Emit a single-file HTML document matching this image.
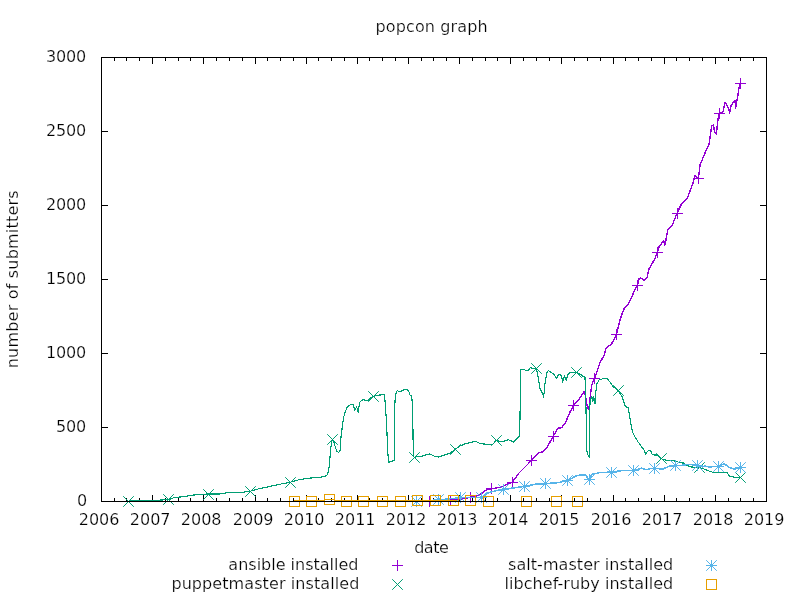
<!DOCTYPE html>
<html lang="en"><head><meta charset="utf-8"><title>popcon graph</title>
<style>
html,body{margin:0;padding:0;background:#fff;}
body{width:800px;height:600px;overflow:hidden;}
svg{display:block;}
text{font-family:"DejaVu Sans","Liberation Sans",sans-serif;font-size:16px;fill:#000;stroke:#fff;stroke-width:0.22px;}
.ax{stroke:#000;stroke-width:1;fill:none;shape-rendering:crispEdges;}
.mk path,.mk rect{fill:none;stroke-width:1;}
.ln{shape-rendering:crispEdges;fill:none;stroke-linejoin:round;stroke-linecap:butt;}
</style></head><body>
<svg width="800" height="600" viewBox="0 0 800 600">
<rect width="800" height="600" fill="#fff"/>

<text x="431.6" y="32.3" text-anchor="middle" textLength="112" lengthAdjust="spacing">popcon graph</text>
<text transform="translate(18.2,279.3) rotate(-90)" text-anchor="middle" textLength="177.9" lengthAdjust="spacing">number of submitters</text>
<text x="431.5" y="552.7" text-anchor="middle" textLength="34.6" lengthAdjust="spacing">date</text>
<path class="ax" d="M114.5 502.0V498.0M114.5 57.0V61.0M126.5 502.0V498.0M126.5 57.0V61.0M139.5 502.0V498.0M139.5 57.0V61.0M152.5 502.0V495.0M152.5 57.0V64.0M165.5 502.0V498.0M165.5 57.0V61.0M178.5 502.0V498.0M178.5 57.0V61.0M190.5 502.0V498.0M190.5 57.0V61.0M203.5 502.0V495.0M203.5 57.0V64.0M216.5 502.0V498.0M216.5 57.0V61.0M229.5 502.0V498.0M229.5 57.0V61.0M242.5 502.0V498.0M242.5 57.0V61.0M255.5 502.0V495.0M255.5 57.0V64.0M267.5 502.0V498.0M267.5 57.0V61.0M280.5 502.0V498.0M280.5 57.0V61.0M293.5 502.0V498.0M293.5 57.0V61.0M306.5 502.0V495.0M306.5 57.0V64.0M318.5 502.0V498.0M318.5 57.0V61.0M331.5 502.0V498.0M331.5 57.0V61.0M344.5 502.0V498.0M344.5 57.0V61.0M357.5 502.0V495.0M357.5 57.0V64.0M369.5 502.0V498.0M369.5 57.0V61.0M382.5 502.0V498.0M382.5 57.0V61.0M395.5 502.0V498.0M395.5 57.0V61.0M408.5 502.0V495.0M408.5 57.0V64.0M421.5 502.0V498.0M421.5 57.0V61.0M433.5 502.0V498.0M433.5 57.0V61.0M446.5 502.0V498.0M446.5 57.0V61.0M459.5 502.0V495.0M459.5 57.0V64.0M472.5 502.0V498.0M472.5 57.0V61.0M485.5 502.0V498.0M485.5 57.0V61.0M497.5 502.0V498.0M497.5 57.0V61.0M510.5 502.0V495.0M510.5 57.0V64.0M523.5 502.0V498.0M523.5 57.0V61.0M536.5 502.0V498.0M536.5 57.0V61.0M549.5 502.0V498.0M549.5 57.0V61.0M561.5 502.0V495.0M561.5 57.0V64.0M574.5 502.0V498.0M574.5 57.0V61.0M587.5 502.0V498.0M587.5 57.0V61.0M600.5 502.0V498.0M600.5 57.0V61.0M613.5 502.0V495.0M613.5 57.0V64.0M625.5 502.0V498.0M625.5 57.0V61.0M638.5 502.0V498.0M638.5 57.0V61.0M651.5 502.0V498.0M651.5 57.0V61.0M664.5 502.0V495.0M664.5 57.0V64.0M676.5 502.0V498.0M676.5 57.0V61.0M689.5 502.0V498.0M689.5 57.0V61.0M702.5 502.0V498.0M702.5 57.0V61.0M715.5 502.0V495.0M715.5 57.0V64.0M728.5 502.0V498.0M728.5 57.0V61.0M740.5 502.0V498.0M740.5 57.0V61.0M753.5 502.0V498.0M753.5 57.0V61.0M101.0 427.5H108.0M767.0 427.5H760.0M101.0 353.5H108.0M767.0 353.5H760.0M101.0 279.5H108.0M767.0 279.5H760.0M101.0 205.5H108.0M767.0 205.5H760.0M101.0 131.5H108.0M767.0 131.5H760.0"/>
<text x="87.3" y="505.8" text-anchor="end" textLength="10.1" lengthAdjust="spacing">0</text>
<text x="86.2" y="431.8" text-anchor="end" textLength="30.2" lengthAdjust="spacing">500</text>
<text x="86.2" y="357.8" text-anchor="end" textLength="40.2" lengthAdjust="spacing">1000</text>
<text x="86.2" y="283.8" text-anchor="end" textLength="40.2" lengthAdjust="spacing">1500</text>
<text x="86.2" y="209.8" text-anchor="end" textLength="40.2" lengthAdjust="spacing">2000</text>
<text x="86.2" y="135.8" text-anchor="end" textLength="40.2" lengthAdjust="spacing">2500</text>
<text x="86.2" y="61.8" text-anchor="end" textLength="40.2" lengthAdjust="spacing">3000</text>
<text x="99.1" y="525.1" text-anchor="middle" textLength="40.9" lengthAdjust="spacing">2006</text>
<text x="150.1" y="525.1" text-anchor="middle" textLength="40.9" lengthAdjust="spacing">2007</text>
<text x="201.1" y="525.1" text-anchor="middle" textLength="40.9" lengthAdjust="spacing">2008</text>
<text x="253.1" y="525.1" text-anchor="middle" textLength="40.9" lengthAdjust="spacing">2009</text>
<text x="304.1" y="525.1" text-anchor="middle" textLength="40.9" lengthAdjust="spacing">2010</text>
<text x="355.1" y="525.1" text-anchor="middle" textLength="40.9" lengthAdjust="spacing">2011</text>
<text x="406.1" y="525.1" text-anchor="middle" textLength="40.9" lengthAdjust="spacing">2012</text>
<text x="457.1" y="525.1" text-anchor="middle" textLength="40.9" lengthAdjust="spacing">2013</text>
<text x="508.1" y="525.1" text-anchor="middle" textLength="40.9" lengthAdjust="spacing">2014</text>
<text x="559.1" y="525.1" text-anchor="middle" textLength="40.9" lengthAdjust="spacing">2015</text>
<text x="611.1" y="525.1" text-anchor="middle" textLength="40.9" lengthAdjust="spacing">2016</text>
<text x="662.1" y="525.1" text-anchor="middle" textLength="40.9" lengthAdjust="spacing">2017</text>
<text x="713.1" y="525.1" text-anchor="middle" textLength="40.9" lengthAdjust="spacing">2018</text>
<text x="764.1" y="525.1" text-anchor="middle" textLength="40.9" lengthAdjust="spacing">2019</text>
<polyline class="ln" stroke="#9400d3" stroke-width="1.4" points="429.5,501.5 440.0,501.2 450.5,500.2 458.0,499.6 464.0,498.6 470.5,497.4 476.0,496.2 480.0,494.7 486.0,490.2 491.2,488.7 496.0,488.0 501.0,487.2 507.0,484.2 512.2,482.3 515.5,478.0 519.0,473.0 522.0,470.0 525.0,467.0 528.5,463.5 531.7,460.2 534.5,457.0 537.7,453.5 540.0,452.3 543.0,452.0 545.0,449.8 547.5,446.7 550.0,442.0 553.0,436.7 556.0,431.5 558.7,427.4 560.2,428.2 561.7,427.5 563.5,425.0 565.5,422.5 567.8,417.2 570.0,412.0 572.0,408.2 573.7,405.2 576.5,402.0 579.0,399.2 581.5,395.6 584.2,391.7 585.0,394.0 586.2,400.5 587.2,406.0 588.7,409.7 589.4,404.0 590.2,397.0 591.7,385.0 593.2,381.0 594.5,378.6 595.8,375.0 597.0,371.5 598.6,366.5 600.0,362.5 602.0,359.0 604.0,356.0 606.0,348.0 608.5,346.2 611.0,345.0 613.8,339.6 616.4,334.6 618.2,327.0 620.0,320.0 622.0,314.0 624.0,309.0 626.0,306.6 628.0,305.0 630.5,299.5 633.0,294.0 635.2,289.5 637.4,285.0 639.0,279.0 641.0,278.0 644.0,280.6 647.0,278.0 648.0,273.0 649.0,269.0 651.5,264.5 654.2,260.0 657.4,252.6 659.0,247.0 661.5,243.6 663.6,241.0 665.0,245.0 666.5,237.0 668.0,229.0 670.0,227.4 672.0,226.0 674.5,219.5 677.0,213.4 679.0,209.0 681.0,205.0 684.0,201.8 687.0,199.0 690.0,191.0 693.0,183.0 695.0,175.6 696.8,177.4 698.4,178.2 699.2,172.0 700.0,165.0 702.5,159.0 705.0,153.0 707.0,148.5 709.0,144.0 710.4,135.0 711.6,126.0 713.6,125.0 714.4,132.0 716.4,134.0 717.2,126.0 718.0,119.0 719.4,113.0 721.0,112.6 723.0,112.0 724.0,107.0 725.0,103.0 726.4,104.0 727.8,107.0 729.0,110.0 729.6,113.0 731.0,106.0 733.0,103.0 735.0,100.0 735.6,108.0 736.6,102.0 737.6,97.0 739.0,88.0 740.4,83.6"/>
<g class="mk"><path d="M424.0 501.5H435.0M429.5 496.0V507.0" stroke="#9400d3"/><path d="M445.0 500.5H456.0M450.5 495.0V506.0" stroke="#9400d3"/><path d="M465.0 497.5H476.0M470.5 492.0V503.0" stroke="#9400d3"/><path d="M486.0 488.5H497.0M491.5 483.0V494.0" stroke="#9400d3"/><path d="M507.0 482.5H518.0M512.5 477.0V488.0" stroke="#9400d3"/><path d="M526.0 460.5H537.0M531.5 455.0V466.0" stroke="#9400d3"/><path d="M548.0 436.5H559.0M553.5 431.0V442.0" stroke="#9400d3"/><path d="M568.0 405.5H579.0M573.5 400.0V411.0" stroke="#9400d3"/><path d="M589.0 378.5H600.0M594.5 373.0V384.0" stroke="#9400d3"/><path d="M611.0 334.5H622.0M616.5 329.0V340.0" stroke="#9400d3"/><path d="M632.0 285.5H643.0M637.5 280.0V291.0" stroke="#9400d3"/><path d="M652.0 252.5H663.0M657.5 247.0V258.0" stroke="#9400d3"/><path d="M672.0 213.5H683.0M677.5 208.0V219.0" stroke="#9400d3"/><path d="M693.0 178.5H704.0M698.5 173.0V184.0" stroke="#9400d3"/><path d="M714.0 113.5H725.0M719.5 108.0V119.0" stroke="#9400d3"/><path d="M735.0 83.5H746.0M740.5 78.0V89.0" stroke="#9400d3"/></g>
<polyline class="ln" stroke="#009e73" stroke-width="1.15" points="128.5,501.4 131.0,500.5 150.0,500.4 160.0,500.1 168.5,499.6 172.0,498.5 174.0,497.6 180.0,497.0 188.0,496.0 194.0,495.0 200.0,494.3 208.6,494.0 220.0,494.0 228.0,492.6 240.0,492.6 250.2,491.2 258.0,489.0 266.7,487.2 278.0,484.6 290.7,482.1 298.0,480.0 306.7,478.3 320.0,477.3 325.0,476.2 327.5,474.7 329.0,468.0 329.8,460.0 330.4,452.0 331.2,444.5 332.4,439.2 333.8,442.0 335.0,446.0 336.8,451.2 338.7,452.4 340.2,450.5 341.0,437.0 342.5,425.0 344.0,416.0 345.5,411.0 347.0,407.7 349.0,405.7 350.7,404.7 353.3,404.7 354.8,410.0 356.7,407.0 358.2,412.2 359.7,402.5 361.5,400.5 363.5,399.5 366.0,400.5 368.0,400.2 370.5,398.0 373.2,396.2 376.5,395.6 380.0,395.0 384.2,394.5 385.2,402.5 386.7,425.0 387.5,447.5 388.5,462.2 391.0,461.5 394.2,460.5 394.5,410.0 395.4,395.0 397.2,390.5 399.0,391.5 401.0,391.2 403.5,390.0 406.2,389.0 408.5,390.5 410.0,395.0 411.8,396.5 412.7,410.0 413.3,456.5 414.5,457.3 417.0,456.3 420.0,456.7 425.0,455.2 429.7,454.0 434.0,456.0 438.7,457.0 444.0,455.2 450.0,453.2 455.5,449.0 460.0,446.0 465.0,443.8 470.0,442.6 475.5,441.2 479.0,443.0 483.0,444.0 487.5,444.2 492.0,445.0 496.5,440.2 500.0,441.5 504.0,441.2 508.5,439.7 513.7,442.0 518.2,437.5 519.7,436.0 520.2,403.0 520.5,369.2 525.0,370.0 528.0,370.7 530.2,367.7 533.0,368.5 536.2,368.5 537.7,374.5 540.0,388.7 541.5,391.0 543.7,397.0 544.8,385.0 546.7,373.0 548.2,370.5 551.0,372.5 553.5,373.7 556.5,378.2 558.0,375.5 559.5,374.5 561.7,376.0 562.5,382.7 564.3,376.0 566.2,380.5 567.7,374.5 570.0,372.2 573.0,373.0 576.0,372.2 580.5,374.5 585.0,377.5 585.7,395.5 586.2,420.0 586.7,450.5 587.7,454.2 589.2,457.4 589.5,410.5 590.4,400.0 591.9,396.8 592.8,402.0 593.8,397.0 595.0,404.0 595.8,392.5 597.0,383.5 599.2,379.9 602.0,379.0 604.5,378.4 607.5,379.0 610.5,382.7 613.5,387.2 616.0,388.5 618.4,390.8 620.5,394.0 622.4,397.0 623.8,402.0 625.3,406.2 628.3,407.9 629.5,415.0 630.5,422.0 631.6,428.0 632.7,432.5 635.0,437.0 638.0,441.8 641.0,446.0 644.0,450.0 645.8,454.2 647.2,451.5 648.8,450.5 650.7,450.7 652.0,454.0 654.5,455.0 657.5,455.0 661.0,458.7 666.5,460.2 672.5,460.6 676.0,461.2 680.0,462.8 683.4,463.0 686.7,465.3 691.2,467.0 695.0,467.2 699.1,467.7 704.7,469.2 709.0,471.0 713.7,472.6 720.0,472.8 727.2,472.8 729.5,476.0 734.0,477.1 740.4,477.5"/>
<g class="mk"><path d="M123.2 496.2L133.8 506.8M123.2 506.8L133.8 496.2" stroke="#009e73"/><path d="M163.2 494.2L173.8 504.8M163.2 504.8L173.8 494.2" stroke="#009e73"/><path d="M203.2 489.2L213.8 499.8M203.2 499.8L213.8 489.2" stroke="#009e73"/><path d="M245.2 486.2L255.8 496.8M245.2 496.8L255.8 486.2" stroke="#009e73"/><path d="M285.2 477.2L295.8 487.8M285.2 487.8L295.8 477.2" stroke="#009e73"/><path d="M327.2 434.2L337.8 444.8M327.2 444.8L337.8 434.2" stroke="#009e73"/><path d="M368.2 391.2L378.8 401.8M368.2 401.8L378.8 391.2" stroke="#009e73"/><path d="M409.2 452.2L419.8 462.8M409.2 462.8L419.8 452.2" stroke="#009e73"/><path d="M450.2 444.2L460.8 454.8M450.2 454.8L460.8 444.2" stroke="#009e73"/><path d="M491.2 435.2L501.8 445.8M491.2 445.8L501.8 435.2" stroke="#009e73"/><path d="M531.2 363.2L541.8 373.8M531.2 373.8L541.8 363.2" stroke="#009e73"/><path d="M571.2 367.2L581.8 377.8M571.2 377.8L581.8 367.2" stroke="#009e73"/><path d="M613.2 385.2L623.8 395.8M613.2 395.8L623.8 385.2" stroke="#009e73"/><path d="M656.2 453.2L666.8 463.8M656.2 463.8L666.8 453.2" stroke="#009e73"/><path d="M694.2 462.2L704.8 472.8M694.2 472.8L704.8 462.2" stroke="#009e73"/><path d="M735.2 472.2L745.8 482.8M735.2 482.8L745.8 472.2" stroke="#009e73"/></g>
<polyline class="ln" stroke="#56b4e9" stroke-width="1.5" points="416.5,501.2 427.0,500.9 438.5,499.8 444.0,499.4 450.0,498.8 455.0,498.2 460.0,497.6 466.0,497.4 472.0,497.5 477.0,497.6 481.3,497.4 484.5,495.4 487.5,493.2 491.0,492.0 495.0,491.0 499.0,490.2 503.2,489.5 508.0,488.8 513.0,488.0 518.5,487.2 524.2,486.5 530.0,485.3 535.5,484.2 540.0,484.0 545.2,483.8 551.0,483.2 558.0,482.7 563.0,481.6 567.4,480.5 572.0,478.2 576.0,476.0 580.0,475.0 583.5,474.8 585.4,475.2 587.5,477.6 589.3,479.4 590.6,476.6 592.0,474.4 595.0,473.6 599.5,472.7 605.0,472.4 611.0,472.0 617.0,471.3 623.5,470.5 628.0,470.6 633.2,470.5 637.5,469.3 641.5,468.2 643.8,469.0 646.0,469.7 650.0,468.7 654.5,468.0 658.5,468.7 662.5,469.3 666.0,467.6 670.0,466.0 675.2,465.7 680.0,465.5 685.6,464.8 691.2,464.3 694.2,464.7 697.4,465.3 700.0,466.3 702.5,467.0 705.3,466.0 709.2,467.0 713.5,466.6 718.2,466.1 721.0,465.0 724.4,463.8 727.0,465.7 729.5,467.5 734.0,469.0 737.0,468.5 740.2,467.9"/>
<g class="mk"><path d="M411.0 501.5H422.0M416.5 496.0V507.0" stroke="#56b4e9"/><path d="M411.2 496.2L421.8 506.8M411.2 506.8L421.8 496.2" stroke="#56b4e9"/><path d="M433.0 499.5H444.0M438.5 494.0V505.0" stroke="#56b4e9"/><path d="M433.2 494.2L443.8 504.8M433.2 504.8L443.8 494.2" stroke="#56b4e9"/><path d="M455.0 497.5H466.0M460.5 492.0V503.0" stroke="#56b4e9"/><path d="M455.2 492.2L465.8 502.8M455.2 502.8L465.8 492.2" stroke="#56b4e9"/><path d="M476.0 497.5H487.0M481.5 492.0V503.0" stroke="#56b4e9"/><path d="M476.2 492.2L486.8 502.8M476.2 502.8L486.8 492.2" stroke="#56b4e9"/><path d="M498.0 489.5H509.0M503.5 484.0V495.0" stroke="#56b4e9"/><path d="M498.2 484.2L508.8 494.8M498.2 494.8L508.8 484.2" stroke="#56b4e9"/><path d="M519.0 486.5H530.0M524.5 481.0V492.0" stroke="#56b4e9"/><path d="M519.2 481.2L529.8 491.8M519.2 491.8L529.8 481.2" stroke="#56b4e9"/><path d="M540.0 483.5H551.0M545.5 478.0V489.0" stroke="#56b4e9"/><path d="M540.2 478.2L550.8 488.8M540.2 488.8L550.8 478.2" stroke="#56b4e9"/><path d="M562.0 480.5H573.0M567.5 475.0V486.0" stroke="#56b4e9"/><path d="M562.2 475.2L572.8 485.8M562.2 485.8L572.8 475.2" stroke="#56b4e9"/><path d="M584.0 479.5H595.0M589.5 474.0V485.0" stroke="#56b4e9"/><path d="M584.2 474.2L594.8 484.8M584.2 484.8L594.8 474.2" stroke="#56b4e9"/><path d="M606.0 472.5H617.0M611.5 467.0V478.0" stroke="#56b4e9"/><path d="M606.2 467.2L616.8 477.8M606.2 477.8L616.8 467.2" stroke="#56b4e9"/><path d="M628.0 470.5H639.0M633.5 465.0V476.0" stroke="#56b4e9"/><path d="M628.2 465.2L638.8 475.8M628.2 475.8L638.8 465.2" stroke="#56b4e9"/><path d="M649.0 468.5H660.0M654.5 463.0V474.0" stroke="#56b4e9"/><path d="M649.2 463.2L659.8 473.8M649.2 473.8L659.8 463.2" stroke="#56b4e9"/><path d="M670.0 465.5H681.0M675.5 460.0V471.0" stroke="#56b4e9"/><path d="M670.2 460.2L680.8 470.8M670.2 470.8L680.8 460.2" stroke="#56b4e9"/><path d="M692.0 465.5H703.0M697.5 460.0V471.0" stroke="#56b4e9"/><path d="M692.2 460.2L702.8 470.8M692.2 470.8L702.8 460.2" stroke="#56b4e9"/><path d="M713.0 466.5H724.0M718.5 461.0V472.0" stroke="#56b4e9"/><path d="M713.2 461.2L723.8 471.8M713.2 471.8L723.8 461.2" stroke="#56b4e9"/><path d="M735.0 467.5H746.0M740.5 462.0V473.0" stroke="#56b4e9"/><path d="M735.2 462.2L745.8 472.8M735.2 472.8L745.8 462.2" stroke="#56b4e9"/></g>
<polyline class="ln" stroke="#e69f00" stroke-width="1" points="294.1,500.6 311.5,500.6 320.0,500.4 329.3,499.5 337.0,500.3 346.1,500.6 363.5,500.6 382.1,500.6 400.3,500.6 417.3,500.6 435.3,500.6 453.5,500.6 459.0,501.2 470.5,501.5 488.5,501.5 526.5,501.5 556.5,501.5 577.5,501.5"/>
<g class="mk"><rect x="289.5" y="496.5" width="10" height="10" stroke="#e69f00"/><rect x="306.5" y="496.5" width="10" height="10" stroke="#e69f00"/><rect x="324.5" y="494.5" width="10" height="10" stroke="#e69f00"/><rect x="341.5" y="496.5" width="10" height="10" stroke="#e69f00"/><rect x="358.5" y="496.5" width="10" height="10" stroke="#e69f00"/><rect x="377.5" y="496.5" width="10" height="10" stroke="#e69f00"/><rect x="395.5" y="496.5" width="10" height="10" stroke="#e69f00"/><rect x="412.5" y="495.5" width="10" height="10" stroke="#e69f00"/><rect x="430.5" y="495.5" width="10" height="10" stroke="#e69f00"/><rect x="448.5" y="495.5" width="10" height="10" stroke="#e69f00"/><rect x="465.5" y="495.5" width="10" height="10" stroke="#e69f00"/><rect x="483.5" y="496.5" width="10" height="10" stroke="#e69f00"/><rect x="521.5" y="496.5" width="10" height="10" stroke="#e69f00"/><rect x="551.5" y="496.5" width="10" height="10" stroke="#e69f00"/><rect x="572.5" y="496.5" width="10" height="10" stroke="#e69f00"/></g>
<rect class="ax" x="101.5" y="57.5" width="665.0" height="444.0"/>
<text x="358.5" y="570.4" text-anchor="end">ansible installed</text>
<text x="359.3" y="588.8" text-anchor="end" textLength="187.9" lengthAdjust="spacing">puppetmaster installed</text>
<text x="673.2" y="570.4" text-anchor="end" textLength="165.2" lengthAdjust="spacing">salt-master installed</text>
<text x="673.2" y="588.5" text-anchor="end" textLength="168.6" lengthAdjust="spacing">libchef-ruby installed</text>
<g class="mk"><path d="M392.0 565.5H403.0M397.5 560.0V571.0" stroke="#9400d3"/><path d="M392.2 579.2L402.8 589.8M392.2 589.8L402.8 579.2" stroke="#009e73"/><path d="M706.0 565.5H717.0M711.5 560.0V571.0" stroke="#56b4e9"/><path d="M706.2 560.2L716.8 570.8M706.2 570.8L716.8 560.2" stroke="#56b4e9"/><rect x="706.5" y="579.5" width="10" height="10" stroke="#e69f00"/></g>
</svg></body></html>
